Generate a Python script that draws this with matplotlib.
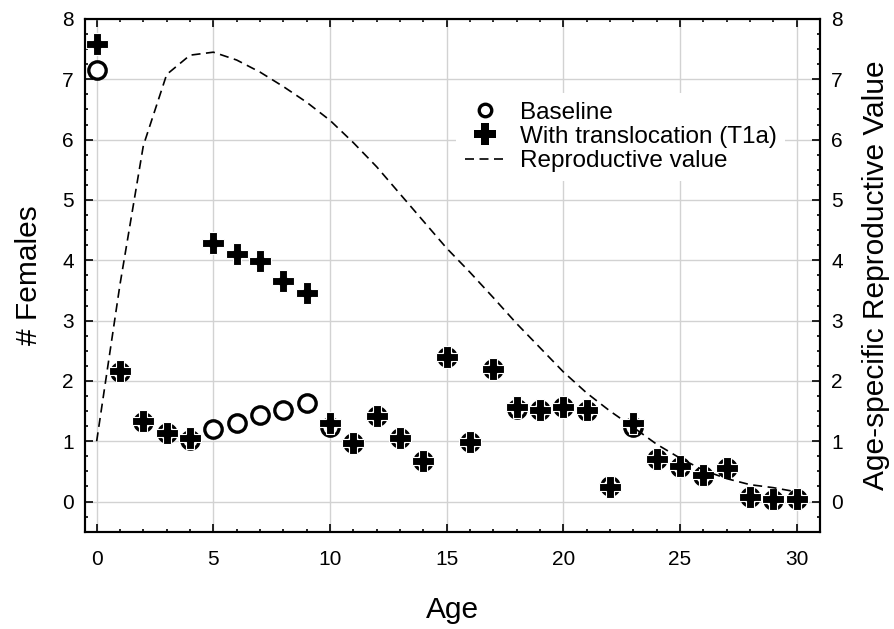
import matplotlib
matplotlib.use("Agg")
import matplotlib.pyplot as plt
from matplotlib.lines import Line2D
from matplotlib.ticker import MultipleLocator

plt.rcParams.update({
    "font.family": ["Liberation Sans", "DejaVu Sans"],
})

## parameters
fs_tick = 15
fs_lab = 21.5
fs_leg = 17.5
lw_spine = 1.5
col_grid = "#d2d2d2"

##--------------- data ---------------##
age = [0, 1, 2, 3, 4, 5, 6, 7, 8, 9, 10, 11, 12, 13, 14, 15,
       16, 17, 18, 19, 20, 21, 22, 23, 24, 25, 26, 27, 28, 29, 30]

baseline = [7.15, 2.15, 1.32, 1.13, 1.02, 1.20, 1.30, 1.43, 1.52, 1.64,
            1.24, 0.97, 1.41, 1.05, 0.68, 2.39, 0.99, 2.19, 1.53, 1.52,
            1.57, 1.50, 0.25, 1.24, 0.71, 0.58, 0.43, 0.55, 0.08, 0.03, 0.04]

transloc = [7.58, 2.17, 1.33, 1.14, 1.06, 4.28, 4.11, 3.98, 3.65, 3.46,
            1.30, 0.97, 1.42, 1.05, 0.68, 2.39, 0.99, 2.20, 1.57, 1.52,
            1.57, 1.51, 0.24, 1.31, 0.71, 0.59, 0.44, 0.55, 0.08, 0.04, 0.04]

repro_val = [1.00, 3.60, 5.90, 7.08, 7.40, 7.45, 7.32, 7.12, 6.88, 6.62,
             6.32, 5.95, 5.55, 5.10, 4.65, 4.20, 3.80, 3.38, 2.95, 2.55,
             2.15, 1.80, 1.50, 1.23, 0.95, 0.72, 0.52, 0.38, 0.28, 0.23, 0.16]

##--------------- figure ---------------##
fig = plt.figure(figsize=(8.94, 6.29), dpi=100)
ax = fig.add_axes([85/894, 1 - 531.7/629, 735/894, 512.7/629])
ax2 = ax.twinx()

ax.plot(age, baseline, ls="none", marker="o", ms=12.5, mfc="white",
        mec="black", mew=2.4, zorder=3)
ax.plot(age, transloc, ls="none", marker="P", ms=15.5, mfc="black",
        mec="white", mew=0.8, zorder=4)
ax2.plot(age, repro_val, color="black", lw=1.2, ls="--", dashes=(5.4, 3.3))

for a in (ax, ax2):
    a.set_xlim(-0.5, 31)
    a.set_ylim(-0.5, 8)
    for s in a.spines.values():
        s.set_linewidth(lw_spine)

ax.xaxis.set_major_locator(MultipleLocator(5))
ax.xaxis.set_minor_locator(MultipleLocator(1))
ax.yaxis.set_major_locator(MultipleLocator(1))
ax.yaxis.set_minor_locator(MultipleLocator(0.25))
ax2.yaxis.set_major_locator(MultipleLocator(1))
ax2.yaxis.set_minor_locator(MultipleLocator(0.25))

ax.tick_params(which="both", direction="in", top=True, width=1.2)
ax.tick_params(which="major", length=5.5, labelsize=fs_tick)
ax.tick_params(which="minor", length=2.2)
ax.tick_params(axis="x", which="major", pad=13)
ax.tick_params(axis="y", which="major", pad=8)
ax2.tick_params(which="both", direction="in", width=1.2)
ax2.tick_params(which="major", length=5.5, labelsize=fs_tick, pad=8)
ax2.tick_params(which="minor", length=2.2)

ax.grid(True, which="major", color=col_grid, lw=1.0)
ax.set_axisbelow(True)

ax.set_xlabel("Age", fontsize=fs_lab)
ax.xaxis.set_label_coords(0.5, -0.125)
ax.set_ylabel("# Females", fontsize=fs_lab)
ax.yaxis.set_label_coords(-0.057, 0.5)
ax2.set_ylabel("Age-specific Reproductive Value", fontsize=fs_lab)
ax2.yaxis.set_label_coords(1.057, 0.5)

## legend (proxy handles)
h_base = Line2D([], [], ls="none", marker="o", ms=9, mfc="white", mec="black", mew=2.4)
h_tran = Line2D([], [], ls="none", marker="P", ms=15.5, mfc="black", mec="black", mew=0)
h_rep = Line2D([], [], color="black", lw=1.2, ls="--", dashes=(5.4, 3.3))
leg = ax2.legend([h_base, h_tran, h_rep],
                 ["Baseline", "With translocation (T1a)", "Reproductive value"],
                 loc="upper left", bbox_to_anchor=(456/894, 1 - 93/629),
                 bbox_transform=fig.transFigure, fontsize=fs_leg,
                 frameon=True, fancybox=False, framealpha=1, facecolor="white",
                 edgecolor="none", borderaxespad=0, borderpad=0.35,
                 handlelength=1.65, handletextpad=0.62, labelspacing=0.1)

fig.savefig("out.png", dpi=100)
